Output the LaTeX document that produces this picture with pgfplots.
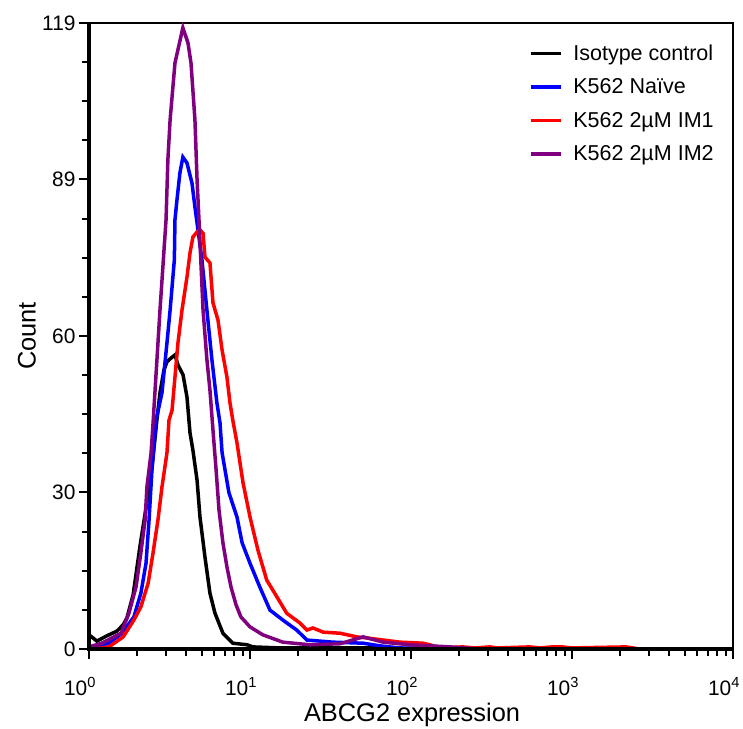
\documentclass[border=0pt]{standalone}
\usepackage{fontspec}
\setmainfont{Liberation Sans}
\usepackage{pgfplots}
\pgfplotsset{compat=1.18}
\usepackage{pgfplotstable}

\definecolor{cblue}{RGB}{0,0,255}
\definecolor{cred}{RGB}{255,0,0}
\definecolor{cpurple}{RGB}{128,0,128}

% histograms: intensity, count
\pgfplotstableread{
x y
1 2.7
1.12 1.5
1.29 2.5
1.49 3.4
1.63 4.6
1.72 5.9
1.88 10.3
2.07 19.4
2.29 27.9
2.46 34.4
2.64 43.5
2.76 48.7
2.92 53.0
3.05 54.6
3.23 55.3
3.42 55.9
3.57 54.0
3.84 52.1
4.06 47.9
4.24 41.1
4.42 37.8
4.69 32.1
4.89 25.1
5.25 17.5
5.64 10.6
6.06 6.8
6.79 3.0
7.82 1.1
9.6 0.8
10.4 0.4
15.4 0.2
27 0.2
64 0.2
175 0
}\isotype

\pgfplotstableread{
x y
1 0.2
1.11 0.4
1.33 1.1
1.60 3.0
1.90 6.1
2.10 10.6
2.26 16.3
2.36 24.5
2.46 34.0
2.61 43.5
2.84 48.7
3.05 58.2
3.19 64.4
3.39 74.0
3.42 81.6
3.52 85.4
3.67 90.5
3.83 93.5
4.06 92.4
4.36 88.6
4.55 84.0
5.03 74.0
5.40 64.4
5.80 55.0
6.23 46.8
6.51 43.0
6.71 37.3
7.40 29.7
8.30 25.1
8.93 20.2
10.0 16.3
11.5 11.8
13.3 7.4
16.0 5.5
19.5 3.6
22.6 1.7
32.7 1.3
50.5 1.1
64 0.6
85 0.2
175 0
}\naive

\pgfplotstableread{
x y
1 0
1.20 0.2
1.33 0.4
1.63 2.3
1.90 5.5
2.10 8.0
2.33 12.5
2.50 18.3
2.68 24.5
2.84 30.8
3.05 37.3
3.14 43.5
3.28 45.4
3.42 51.7
3.57 58.2
3.78 64.4
4.06 70.7
4.24 75.3
4.42 78.3
4.69 79.3
4.89 79.7
5.11 79.0
5.25 74.5
5.64 73.4
5.89 65.8
6.33 62.5
6.71 56.8
7.19 51.7
7.51 46.8
7.82 43.5
8.30 39.2
9.05 31.6
10.0 25.1
11.2 18.8
12.7 13.1
14.7 9.9
16.9 6.8
20.5 4.9
22.6 3.6
24.6 4.0
28.5 3.2
36.2 3.0
46.1 2.3
53.3 2.1
67.2 1.7
85.5 1.3
118.8 1.1
131 0.8
151 0.2
210 0.4
249 0.2
310 0.4
342 0.2
545 0.4
630 0.2
750 0.4
875 0.4
980 0.2
2165 0.4
2640 0
}\imone

\pgfplotstableread{
x y
1 0.4
1.20 1.1
1.58 3.0
1.77 6.8
1.96 11.8
2.10 18.3
2.23 24.5
2.29 30.8
2.43 37.3
2.50 43.0
2.76 64.4
3.01 81.6
3.09 93.0
3.19 100.6
3.42 111.4
3.83 118.1
4.12 115.2
4.30 111.4
4.55 100.6
4.69 89.2
4.82 81.6
5.11 64.4
5.40 55.0
5.64 49.2
5.89 41.6
6.16 34.0
6.42 26.4
6.79 20.2
7.19 15.6
7.62 11.8
8.19 8.4
8.78 6.1
10.0 4.2
12.0 2.7
16.0 1.3
23.6 0.8
36.2 1.0
50.5 2.3
67.2 1.3
98.5 0.8
175 0.4
268 0
}\imtwo

\begin{document}
\begin{tikzpicture}
\useasboundingbox (-89bp,-80bp) rectangle (654bp,649bp);
\begin{axis}[
  name=ax,
  at={(0,0)}, anchor=south west,
  width=644bp, height=626bp, scale only axis,
  xmode=log, xmin=1, xmax=10000, ymin=0, ymax=119,
  xtick={1,10,100,1000,10000},
  xticklabels={10\textsuperscript{0},10\textsuperscript{1},10\textsuperscript{2},10\textsuperscript{3},10\textsuperscript{4}},
  minor xtick={2,3,4,5,6,7,8,9,20,30,40,50,60,70,80,90,200,300,400,500,600,700,800,900,2000,3000,4000,5000,6000,7000,8000,9000},
  ytick={0,29.75,59.5,89.25,119},
  yticklabels={0,30,60,89,119},
  minor y tick num=3,
  tickpos=left, tick align=outside,
  major tick length=10bp, minor tick length=7bp,
  every tick/.style={black, line width=2bp},
  axis line style={line width=1.2bp},
  tick label style={font=\fontsize{21}{25}\selectfont},
  x tick label style={xshift=-9bp, yshift=-15bp},
  label style={font=\fontsize{25.5}{30}\selectfont},
  xlabel={ABCG2 expression}, ylabel={Count},
  xlabel style={at={(axis description cs:0.5016,-0.1054)}, anchor=center},
  ylabel style={at={(axis description cs:-0.0963,0.5)}, anchor=center},
  legend cell align=left,
  legend image code/.code={\draw[#1] (0bp,0bp) -- (30bp,0bp); \path (39bp,0bp);},
  legend style={draw=none, fill=none, at={(0.678,0.972)}, anchor=north west,
    font=\fontsize{21.6}{25}\selectfont, row sep=13bp},
  every axis plot/.append style={line width=3.5bp},
]
\addplot[black] table {\isotype};
\addlegendentry{Isotype control}
\addplot[cblue] table {\naive};
\addlegendentry{K562 Naïve}
\addplot[cred] table {\imone};
\addlegendentry{K562 2µM IM1}
\addplot[cpurple] table {\imtwo};
\addlegendentry{K562 2µM IM2}
\end{axis}
\draw[line width=3bp] (ax.north west) -- (ax.south west) -- (ax.south east);
\end{tikzpicture}
\end{document}
